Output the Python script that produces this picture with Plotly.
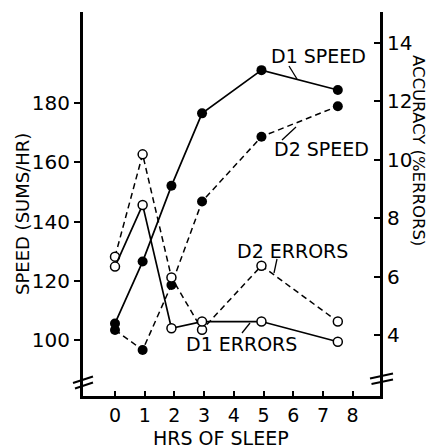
import plotly.graph_objects as go

# ---- data ----
hours = [0, 0.93, 1.9, 2.93, 4.93, 7.5]
d1_speed = [105.6, 126.5, 152.1, 176.6, 191.2, 184.5]
d2_speed = [103.4, 96.6, 118.6, 146.8, 168.7, 179.0]
d1_errors = [6.34, 8.45, 4.23, 4.46, 4.46, 3.77]
d2_errors = [6.68, 10.18, 5.97, 4.18, 6.37, 4.46]
x_ticks = [0, 1, 2, 3, 4, 5, 6, 7, 8]
speed_ticks = [100, 120, 140, 160, 180]
error_ticks = [4, 6, 8, 10, 12, 14]

# ---- layout geometry (pixels) ----
W, H = 433, 448
L, R, T, B = 83, 380, 12, 396
FONT = "DejaVu Sans"


def px(x, y):
    return (x - L) / (R - L), (B - y) / (B - T)


fig = go.Figure()

filled = dict(symbol="circle", size=10, color="black")
opened = dict(symbol="circle", size=9, color="white", line=dict(color="black", width=1.5))
dash = "6px,4px"

fig.add_trace(go.Scatter(x=hours, y=d2_speed, yaxis="y", mode="lines+markers",
                         line=dict(color="black", width=1.5, dash=dash), marker=filled))
fig.add_trace(go.Scatter(x=hours, y=d2_errors, yaxis="y2", mode="lines+markers",
                         line=dict(color="black", width=1.5, dash=dash), marker=opened))
fig.add_trace(go.Scatter(x=hours, y=d1_speed, yaxis="y", mode="lines+markers",
                         line=dict(color="black", width=1.7), marker=filled))
fig.add_trace(go.Scatter(x=hours, y=d1_errors, yaxis="y2", mode="lines+markers",
                         line=dict(color="black", width=1.7), marker=opened))

tickfont = dict(family=FONT, size=20, color="black")

fig.update_layout(
    width=W, height=H,
    margin=dict(l=L, r=W - R, t=T, b=H - B, pad=0),
    paper_bgcolor="white", plot_bgcolor="white",
    showlegend=False,
    xaxis=dict(range=[-1.077, 8.92], tickvals=x_ticks, ticks="inside", ticklen=5,
               tickwidth=1.5, tickcolor="black", showline=True, linewidth=3,
               linecolor="black", showgrid=False, zeroline=False,
               tickfont=dict(family=FONT, size=19, color="black"), ticklabelstandoff=0),
    yaxis=dict(range=[81.07, 210.85], tickvals=speed_ticks, ticks="outside", ticklen=6,
               tickwidth=1.5, tickcolor="black", showline=True, linewidth=3,
               linecolor="black", showgrid=False, zeroline=False, tickfont=tickfont),
    yaxis2=dict(range=[1.913, 15.05], tickvals=error_ticks, overlaying="y", side="right",
                ticks="inside", ticklen=6, tickwidth=1.5, tickcolor="black",
                showline=True, linewidth=3, linecolor="black", showgrid=False,
                zeroline=False, tickfont=tickfont),
)

labels = [
    ("D1 SPEED", 318.5, 56.5, 19, 0),
    ("D2 SPEED", 321, 148.5, 19, 0),
    ("D2 ERRORS", 292.5, 250.5, 19, 0),
    ("D1 ERRORS", 241, 344, 19, 0),
    ("HRS OF SLEEP", 221, 438, 19, 0),
    ("SPEED (SUMS/HR)", 22, 214, 18, -90),
    ("ACCURACY (%ERRORS)", 419, 150, 16.5, 90),
]
for text, x, y, size, ang in labels:
    ax_, ay_ = px(x, y)
    fig.add_annotation(text=text, x=ax_, y=ay_, xref="paper", yref="paper",
                       xanchor="center", yanchor="middle", showarrow=False,
                       textangle=ang, font=dict(family=FONT, size=size, color="black"))

# leader lines and axis-break marks (decorations)
segments = [
    ((289, 66), (297, 79), 1.3),
    ((282, 140), (296, 127), 1.3),
    ((277, 259), (274, 273), 1.3),
    ((242, 333), (250, 323), 1.3),
    ((73, 383), (93, 376.5), 2),
    ((75, 388.5), (93, 382.5), 2),
    ((370, 378.5), (393, 373.5), 2),
    ((371.5, 384), (393, 379.5), 2),
]
for (x0, y0), (x1, y1), w in segments:
    a0, b0 = px(x0, y0)
    a1, b1 = px(x1, y1)
    fig.add_shape(type="line", x0=a0, y0=b0, x1=a1, y1=b1, xref="paper", yref="paper",
                  line=dict(color="black", width=w))

fig.write_html("out.html", config={"displayModeBar": False},
               post_script="document.body.style.margin='0px';document.body.style.overflow='hidden';")
